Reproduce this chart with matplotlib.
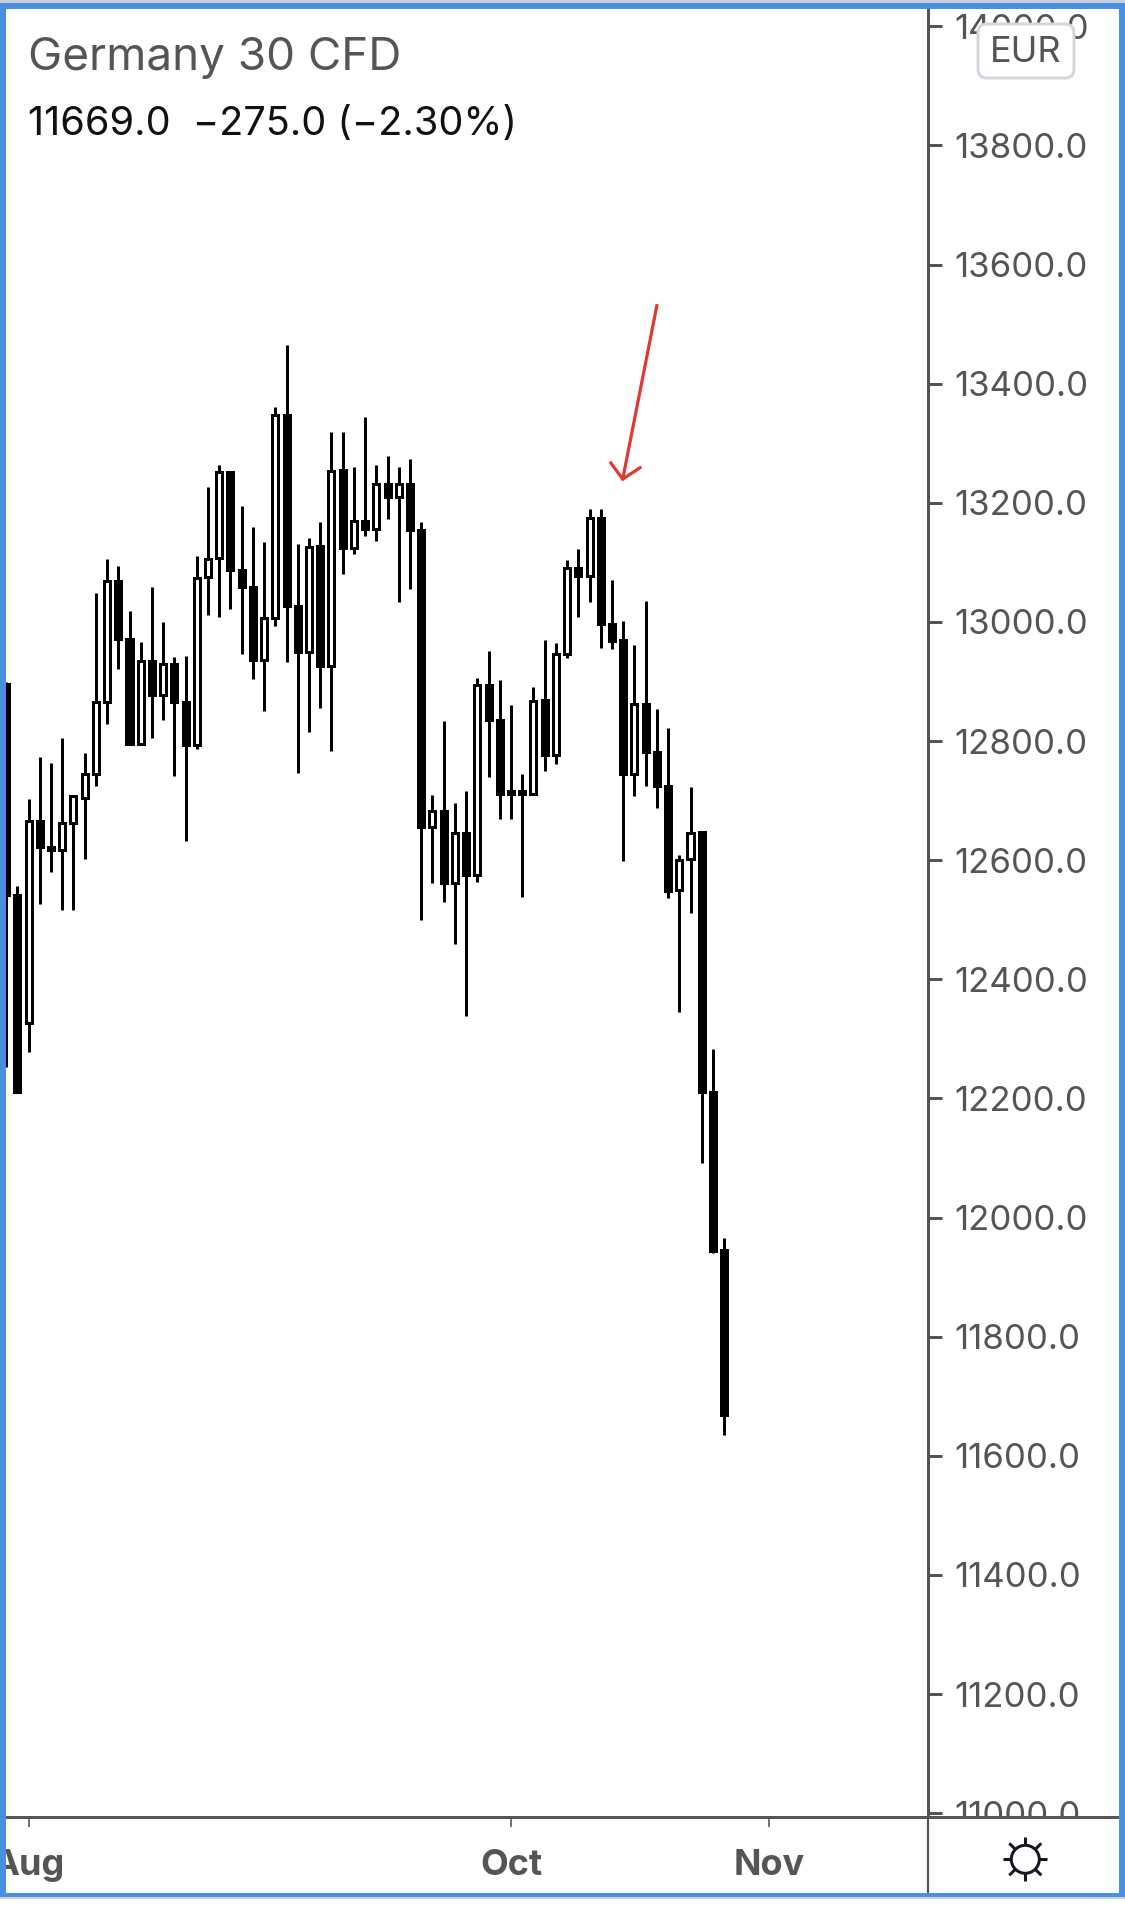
import matplotlib
matplotlib.use("Agg")
import matplotlib.pyplot as plt
from matplotlib.patches import FancyBboxPatch, Rectangle, Circle

plt.rcParams['font.family'] = ['Inter', 'DejaVu Sans']

BLUE = '#4a90e2'
GREY = '#555555'
RED = '#e0392f'
DARK = '#131722'

# candle index, -1 is the one cut off by the left border
idx = list(range(-1, 64))
highs = [12899, 12557, 12703, 12774, 12764, 12805, 12708, 12780, 13048, 13106, 13094, 13018, 12967,
         13058, 13000, 12942, 12943, 13111, 13226, 13264, 13252, 13195, 13159, 13134, 13361, 13465,
         13131, 13141, 13168, 13319, 13319, 13261, 13344, 13264, 13279, 13261, 13274, 13168, 12709,
         12834, 12696, 12716, 12906, 12951, 12903, 12861, 12745, 12891, 12969, 12964, 13104, 13122,
         13190, 13190, 13070, 13002, 12961, 13035, 12854, 12822, 12608, 12723, 12648, 12283, 11966]
tops = [12896, 12541, 12665, 12665, 12622, 12663, 12707, 12745, 12866, 13068, 13068, 12972, 12934,
        12934, 12929, 12929, 12866, 13074, 13106, 13251, 13252, 13088, 13058, 13007, 13347, 13347,
        13026, 13126, 13127, 13254, 13255, 13169, 13169, 13232, 13232, 13232, 13232, 13155, 12683,
        12683, 12645, 12645, 12895, 12895, 12835, 12717, 12717, 12868, 12869, 12947, 13090, 13090,
        13175, 13175, 12996, 12969, 12863, 12863, 12782, 12724, 12601, 12646, 12648, 12210, 11946]
bottoms = [12541, 12211, 12326, 12622, 12617, 12617, 12663, 12705, 12745, 12866, 12972, 12795, 12795,
           12878, 12878, 12866, 12793, 12793, 13075, 13108, 13088, 13058, 12936, 12936, 13007, 13026,
           12949, 12949, 12926, 12926, 13124, 13124, 13156, 13156, 13210, 13210, 13155, 12655, 12655,
           12562, 12562, 12576, 12576, 12835, 12712, 12712, 12712, 12712, 12776, 12776, 12947, 13078,
           13078, 12996, 12968, 12744, 12744, 12782, 12724, 12549, 12550, 12602, 12210, 11944, 11669]
lows = [12252, 12211, 12278, 12527, 12580, 12517, 12516, 12602, 12725, 12828, 12921, 12795, 12795,
        12805, 12835, 12742, 12632, 12786, 13011, 13008, 13022, 12947, 12905, 12850, 12994, 12933,
        12747, 12816, 12855, 12783, 13081, 13114, 13144, 13136, 13173, 13033, 13055, 12500, 12562,
        12530, 12460, 12339, 12563, 12739, 12669, 12669, 12539, 12712, 12749, 12762, 12939, 13009,
        13033, 12956, 12954, 12598, 12707, 12724, 12688, 12536, 12345, 12511, 12092, 11941, 11635]
# 1 = hollow (up day), 0 = solid (down day)
hollow = [0, 0, 1, 0, 0, 1, 1, 1, 1, 1, 0, 0, 1, 0, 1, 0, 0, 1, 1, 1, 0, 0, 0, 1, 1, 0,
          0, 1, 0, 1, 0, 1, 0, 1, 0, 1, 0, 0, 1, 0, 1, 0, 1, 0, 0, 0, 0, 1, 0, 1, 1, 0,
          1, 0, 0, 0, 1, 0, 0, 0, 1, 1, 0, 0, 0]

price_ticks = [14000, 13800, 13600, 13400, 13200, 13000, 12800, 12600, 12400, 12200, 12000,
               11800, 11600, 11400, 11200, 11000]
month_pos = [1, 44, 67]
month_labels = ['Aug', 'Oct', 'Nov']
arrow_x = [57.0, 53.96]
arrow_y = [13531, 13240]
barb_x = [52.9, 53.96, 55.5]
barb_y = [13267, 13240, 13259]

W, H = 1125, 1917
fig = plt.figure(figsize=(W/100, H/100), dpi=100, facecolor='white')
px = 72/100

# pixel <-> data mapping of the chart
def to_idx(x):
    return (x - 17.3)/11.22
def to_price(y):
    return 13800 - (y - 145.5)*1.679

L, R, T, B = 6, 928, 9, 1816.7
ax = fig.add_axes([L/W, 1 - B/H, (R - L)/W, (B - T)/H])
ax.set_xlim(to_idx(L), to_idx(R))
ax.set_ylim(to_price(B), to_price(T))

ax.vlines(idx, lows, highs, color='black', linewidth=3*px, capstyle='butt', zorder=2)
for i in range(len(idx)):
    face = 'white' if hollow[i] else 'black'
    ax.bar(idx[i], tops[i] - bottoms[i], bottom=bottoms[i], width=0.535, facecolor=face,
           edgecolor='black', linewidth=3*px, zorder=3)

ax.plot(arrow_x, arrow_y, color=RED, linewidth=3.2*px, zorder=4)
ax.plot(barb_x, barb_y, color=RED, linewidth=3.2*px, zorder=4)

for s in ['top', 'left', 'bottom']:
    ax.spines[s].set_visible(False)
ax.spines['right'].set_color(GREY)
ax.spines['right'].set_linewidth(3*px)
ax.set_xticks([])
ax.yaxis.tick_right()
ax.set_yticks(price_ticks)
ax.set_yticklabels(['%.1f' % p for p in price_ticks])
ax.tick_params(axis='y', length=14*px, width=3*px, color=GREY, labelcolor=GREY,
               labelsize=25, pad=9)

# time axis panel, sits over the clipped 11000.0 label
ax2 = fig.add_axes([L/W, 1 - 1893/H, (1119 - L)/W, (1893 - B)/H], zorder=3)
ax2.set_xlim(to_idx(L), to_idx(1119))
ax2.set_ylim(0, 1)
ax2.set_yticks([])
ax2.set_xticks([])
for s in ['left', 'right', 'bottom']:
    ax2.spines[s].set_visible(False)
ax2.spines['top'].set_color(GREY)
ax2.spines['top'].set_linewidth(3*px)
ax2.vlines(month_pos, 1 - 10/76.3, 1, color=GREY, linewidth=1.6*px)
ax2.axvline(to_idx(928), color=GREY, linewidth=2.2*px)
for m, lab in zip(month_pos, month_labels):
    ax2.text(m, 1 - 49/76.3, lab, ha='center', va='center', fontsize=26, color=GREY,
             fontweight='bold', clip_on=False)

# screenshot overlay in pixels: frame, header, button, gear
ov = fig.add_axes([0, 0, 1, 1], zorder=5)
ov.set_xlim(0, W)
ov.set_ylim(H, 0)
ov.axis('off')
ov.patch.set_visible(False)

ov.add_patch(FancyBboxPatch((978, 24), 96, 54, boxstyle='round,pad=0,rounding_size=9',
                            facecolor='white', edgecolor='#d3d6dc', linewidth=3*px))
ov.text(1026, 53, 'EUR', ha='center', va='center', fontsize=26, color=GREY)
ov.text(28, 58, 'Germany 30 CFD', ha='left', va='center', fontsize=33, color=GREY)
ov.text(28, 125, '11669.0  \u2212275.0 (\u22122.30%)', ha='left', va='center', fontsize=28.6, color='#111111')

# gear
cx, cy = 1025.3, 1859.3
ov.add_patch(Circle((cx, cy), 14, facecolor='none', edgecolor=DARK, linewidth=3*px))
ov.plot([cx, cx], [cy - 22, cy - 14], color=DARK, linewidth=3*px, solid_capstyle='butt')
ov.plot([cx, cx], [cy + 14, cy + 22], color=DARK, linewidth=3*px, solid_capstyle='butt')
ov.plot([cx - 22, cx - 14], [cy, cy], color=DARK, linewidth=3*px, solid_capstyle='butt')
ov.plot([cx + 14, cx + 22], [cy, cy], color=DARK, linewidth=3*px, solid_capstyle='butt')
for sx in [-1, 1]:
    for sy in [-1, 1]:
        ov.plot([cx + sx*10, cx + sx*16], [cy + sy*10, cy + sy*16], color=DARK,
                linewidth=3*px, solid_capstyle='butt')

ov.add_patch(Rectangle((0, 0), W, 3, facecolor='#c9d3de', edgecolor='none'))
ov.add_patch(Rectangle((0, 3), W, 6, facecolor=BLUE, edgecolor='none'))
ov.add_patch(Rectangle((0, 3), 6, 1893, facecolor=BLUE, edgecolor='none'))
ov.add_patch(Rectangle((1119, 3), 6, 1893, facecolor=BLUE, edgecolor='none'))
ov.add_patch(Rectangle((0, 1893), W, 3.7, facecolor=BLUE, edgecolor='none'))
ov.add_patch(Rectangle((0, 1896.7), W, 2.7, facecolor='#c9d3de', edgecolor='none'))

fig.savefig('out.png', dpi=100, facecolor='white')
